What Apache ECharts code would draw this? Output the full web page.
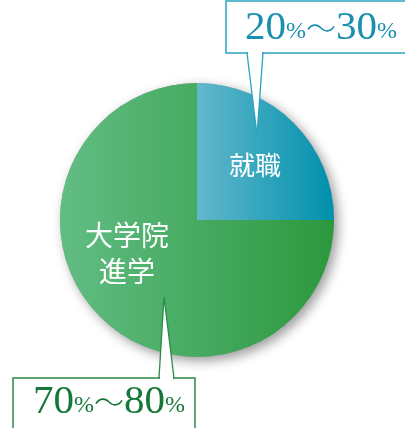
<!DOCTYPE html>
<html><head><meta charset="utf-8">
<script src="https://cdn.jsdelivr.net/npm/echarts@6/dist/echarts.min.js"></script>
<style>html,body{margin:0;padding:0;background:#fff}#c{width:405px;height:428px}</style>
</head><body><div id="c"></div>
<script>
const categories = ['就職', '大学院進学'];
const values = [25, 75];
const rangeLabels = ['20%〜30%', '70%〜80%'];
const sliceLabels = ['就職', '大学院\n進学'];

const chart = echarts.init(document.getElementById('c'));
const jp = '"Noto Sans CJK JP"';
const serif = '"Liberation Serif", "DejaVu Serif", serif';

function grad(c1, c2) {
  return new echarts.graphic.LinearGradient(0, 0, 1, 0, [{offset:0,color:c1},{offset:1,color:c2}]);
}
const colors = [grad('#62b8cc', '#0090ad'), grad('#62bd84', '#2b983d')];
const textColors = ['#1a90b0', '#17773a'];
const strokeColors = ['#2aa2c2', '#2a8a48'];

function rangeRich(s, col) {
  const m = s.match(/(\d+)%(〜)(\d+)%/);
  return {
    text: '{n|' + m[1] + '}{p|%}{w|' + m[2] + '}{n|' + m[3] + '}{p|%}',
    rich: {
      n: {fontFamily: serif, fontSize: 41, fill: col, color: col},
      p: {fontFamily: serif, fontSize: 24, fill: col, color: col, padding:[8,0,0,0]},
      w: {fontFamily: jp, fontSize: 30, fill: col, color: col, fontWeight: 300}
    }
  };
}

function callout(box, tip, base, idx, textCenter) {
  const r = rangeRich(rangeLabels[idx], textColors[idx]);
  const sc = strokeColors[idx];
  return [
    {type:'rect', shape:{x:box[0], y:box[1], width:box[2], height:box[3]}, style:{fill:'#fff', stroke:sc, lineWidth:1.5}, z:10},
    {type:'polygon', shape:{points:[[base[0], base[2]], tip, [base[1], base[2]]]}, style:{fill:'#fff', stroke:sc, lineWidth:1.3}, z:11},
    {type:'line', shape:{x1:base[0]+1, y1:base[2], x2:base[1]-1, y2:base[2]}, style:{stroke:'#fff', lineWidth:3}, z:12},
    {type:'text', x:textCenter[0], y:textCenter[1], style:{text:r.text, rich:r.rich, align:'center', verticalAlign:'middle'}, z:13}
  ];
}

const graphics = [].concat(
  callout([226, 1, 180, 52], [257, 135], [247, 263, 53], 0, [321, 28]),
  callout([13, 378, 182, 60], [164, 297], [159, 174, 378], 1, [109, 402]),
  [
    {type:'text', x:255, y:165, style:{text:sliceLabels[0], fill:'#fff', font:'26px ' + jp, align:'center', verticalAlign:'middle'}, z:5},
    {type:'text', x:127, y:253, style:{text:sliceLabels[1], fill:'#fff', font:'28px ' + jp, align:'center', verticalAlign:'middle', lineHeight:36}, z:5}
  ]
);

const total = values.reduce((a, b) => a + b, 0);

chart.setOption({
  animation: false,
  series: [{
    type: 'pie',
    center: [197, 220],
    radius: [0, 137],
    silent: true,
    z: 1,
    label: {show: false},
    labelLine: {show: false},
    data: [{value: total, name: 'shadow', itemStyle: {color: '#999', shadowBlur: 12, shadowColor: 'rgba(0,0,0,0.4)', shadowOffsetX: 4, shadowOffsetY: 4}}]
  }, {
    type: 'pie',
    center: [197, 220],
    radius: [0, 137],
    startAngle: 90,
    clockwise: true,
    z: 2,
    label: {show: false},
    labelLine: {show: false},
    emphasis: {disabled: true},
    data: categories.map((c, i) => ({
      name: c, value: values[i],
      itemStyle: {color: colors[i], borderWidth: 0}
    }))
  }],
  graphic: graphics
});
</script></body></html>
